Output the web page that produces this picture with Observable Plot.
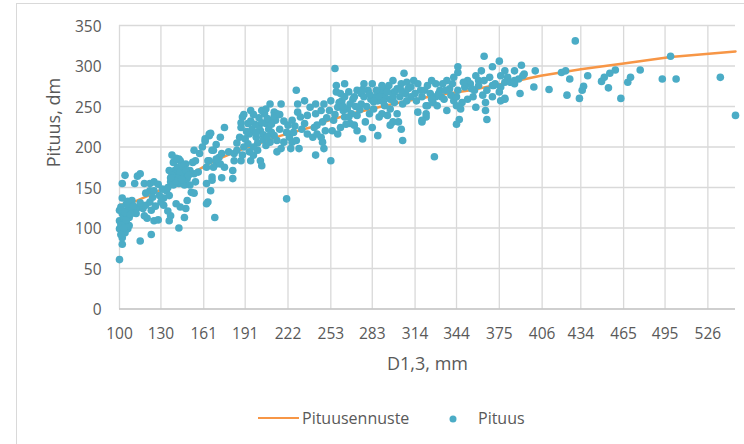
<!DOCTYPE html>
<html>
<head>
<meta charset="utf-8">
<script src="https://cdn.jsdelivr.net/npm/d3@7"></script>
<script src="https://cdn.jsdelivr.net/npm/@observablehq/plot@0.6"></script>
<style>
  html, body { margin: 0; padding: 0; background: #fff; }
  body { width: 744px; height: 444px; position: relative; overflow: hidden; font-family: 'Open Sans', sans-serif; }
  #frame { position: absolute; left: 16px; top: 3px; width: 800px; height: 500px; border: 1px solid #d9d9d9; box-sizing: border-box; }
  #chart { position: absolute; left: 0; top: 0; }
  .lg { position: absolute; font-size: 16px; line-height: 20px; color: #595959; white-space: nowrap; }
</style>
</head>
<body>
<div id="frame"></div>
<div id="chart"></div>
<div id="legend">
  <div style="position:absolute;left:258px;top:416.5px;width:41px;height:2.5px;background:#f79646"></div>
  <span class="lg" style="left:302px;top:408px">Pituusennuste</span>
  <svg style="position:absolute;left:448px;top:414px" width="10" height="10"><circle cx="5" cy="5" r="3.5" fill="#4bacc6"/></svg>
  <span class="lg" style="left:478px;top:408px">Pituus</span>
</div>
<script>
// Tick labels
const xTicks = [100, 130, 161, 191, 222, 253, 283, 314, 344, 375, 406, 434, 465, 495, 526];
const yTicks = [0, 50, 100, 150, 200, 250, 300, 350];

// Measured trees: diameter D1,3 (mm) and height (dm)
const diam = [
100,102,102,100,104,106,100,103,107,102,100,106,109,113,117,119,105,108,102,102,104,111,113,115,118,122,125,128,122,119,125,131,134,115,123,120,125,128,123,126,132,135,137,136,132,136,135,137,140,141,143,146,140,142,144,138,143,147,143,147,148,149,152,154,144,141,155,154,157,155,154,158,160,162,165,166,167,170,165,163,167,170,172,164,169,166,163,
136,138,143,147,149,151,148,153,151,112,115,118,122,109,107,124,129,130,
163,167,174,182,182,176,173,168,164,170,174,179,183,185,183,188,189,162,165,173,168,176,188,187,189,195,193,194,193,194,195,197,200,202,203,199,202,206,205,203,209,217,212,211,208,212,214,209,206,214,217,213,214,221,222,223,219,225,224,230,228,226,225,229,229,234,231,234,236,238,242,242,228,236,240,243,
196,198,200,204,207,210,191,197,201,216,219,221,227,232,190,185,
256,253,248,247,243,241,248,252,246,253,257,257,260,261,258,255,254,258,260,263,265,266,269,272,275,277,283,275,272,270,267,272,276,278,283,287,281,284,287,289,293,295,299,296,292,290,296,298,296,304,302,305,301,305,304,306,308,311,313,316,318,311,308,315,316,319,322,322,282,267,263,288,294,290,242,247,249,246,
262,268,274,279,285,292,299,303,277,271,286,298,301,307,264,256,250,280,
328,364,375,370,391,401,393,386,379,376,362,358,345,345,342,337,334,329,323,321,325,329,327,323,322,319,337,335,340,342,345,350,354,352,348,344,346,344,358,365,366,363,366,370,372,376,379,381,383,386,389,376,379,375,370,390,400,411,333,330,357,365,347,360,364,
371,379,386,392,339,332,326,352,356,368,
420,423,426,424,430,433,435,436,439,449,451,455,454,459,463,468,470,477,493,503,499,535,546,
101,103,101,104,105,108,110,103,101,106,
139,141,144,146,139,141,148,150,145,137,
192,195,199,201,204,207,210,212,197,203,206,216,188,190,
259,263,270,276,281,288,294,298,304,309,314,319,284,291,266,262,
331,336,341,349,355,360,344,326
];
const height = [
61,80,88,99,94,99,109,107,103,118,122,124,122,125,124,128,130,130,137,155,165,155,164,167,155,155,157,154,146,143,146,148,146,84,92,112,109,110,122,127,128,121,115,109,137,140,150,157,160,166,163,168,171,175,183,190,185,159,100,113,124,134,144,143,126,130,157,167,169,183,196,192,200,207,214,217,196,203,183,175,163,179,187,132,113,146,155,
171,165,155,153,161,171,179,181,153,118,131,115,132,134,113,138,140,132,
130,159,162,161,171,175,179,175,183,185,192,194,192,196,183,183,190,210,216,212,196,224,224,212,237,245,229,216,204,194,183,190,196,183,177,212,220,229,241,245,253,253,243,233,222,214,208,206,202,194,198,233,241,136,227,212,206,206,198,198,208,218,233,243,253,257,237,229,239,249,253,190,270,216,212,227,
222,228,205,215,235,218,210,200,236,222,232,218,226,222,200,205,
297,183,198,206,216,224,253,245,245,257,268,276,266,257,249,233,220,216,224,237,247,268,259,270,266,278,278,253,239,227,229,220,210,231,224,214,241,247,257,268,272,276,268,259,251,241,247,231,227,222,231,208,241,253,278,291,280,274,282,278,270,262,257,257,243,231,237,251,259,253,278,237,239,276,241,231,220,212,
245,241,246,250,262,262,255,262,262,250,270,282,272,266,228,240,236,270,
188,312,306,299,301,294,290,294,294,288,294,288,299,292,286,282,278,278,276,270,266,262,255,251,241,233,245,259,264,257,270,274,278,259,255,251,234,228,249,255,234,264,270,276,278,274,280,286,280,282,284,257,259,268,262,266,274,271,262,251,270,245,247,282,282,
276,260,278,288,272,270,282,282,262,286,
292,294,284,264,331,260,270,275,288,281,286,291,273,295,260,280,286,295,284,284,312,286,239,
104,113,126,119,110,117,127,100,92,133,
153,158,170,176,181,186,171,165,160,162,
219,232,218,226,209,213,228,238,240,230,247,240,230,240,
255,262,262,271,265,262,268,262,270,272,266,262,256,256,237,250,
266,270,278,280,272,276,262,259
];

// Height prediction curve (Pituusennuste)
const fitD = [100, 110, 121, 140, 155, 170, 190, 217, 238, 250, 270, 300, 330, 354, 380, 405, 434, 465, 499, 546];
const fitH = [128, 132, 140, 155, 170, 184, 198, 214, 224, 232, 242, 254, 264, 270, 279, 288, 296, 303, 311, 318];

const trees = diam.map((d, i) => ({d, h: height[i]}));
const fit = fitD.map((d, i) => ({d, h: fitH[i]}));

const gray = "#595959";
const chart = Plot.plot({
  width: 744,
  height: 380,
  marginLeft: 119,
  marginRight: 9,
  marginTop: 25,
  marginBottom: 71.5,
  style: {fontFamily: "'Open Sans', sans-serif", background: "transparent", overflow: "visible"},
  x: {domain: [100, 546]},
  y: {domain: [0, 350]},
  marks: [
    Plot.gridX(xTicks, {stroke: "#d9d9d9", strokeOpacity: 1, strokeWidth: 1.3}),
    Plot.gridY(yTicks.filter(v => v > 0), {stroke: "#d9d9d9", strokeOpacity: 1, strokeWidth: 1.3}),
    Plot.ruleY([0], {stroke: "#bfbfbf", strokeWidth: 1.5}),
    Plot.line(fit, {x: "d", y: "h", stroke: "#f79646", strokeWidth: 2.5}),
    Plot.dot(trees, {x: "d", y: "h", r: 3.8, fill: "#4bacc6"}),
    Plot.axisX(xTicks, {tickSize: 0, tickPadding: 18.5, fontSize: 15.5, color: gray, label: null, tickFormat: d => String(d)}),
    Plot.axisY(yTicks, {tickSize: 0, tickPadding: 18, fontSize: 15.5, color: gray, label: null, dy: 1.5}),
    Plot.text(["D1,3, mm"], {frameAnchor: "bottom", dy: 48.5, lineAnchor: "top", fontSize: 18, fill: gray}),
    Plot.text(["Pituus, dm"], {frameAnchor: "left", dx: -65, rotate: -90, fontSize: 18, fill: gray})
  ]
});
document.getElementById("chart").appendChild(chart);
</script>
</body>
</html>
